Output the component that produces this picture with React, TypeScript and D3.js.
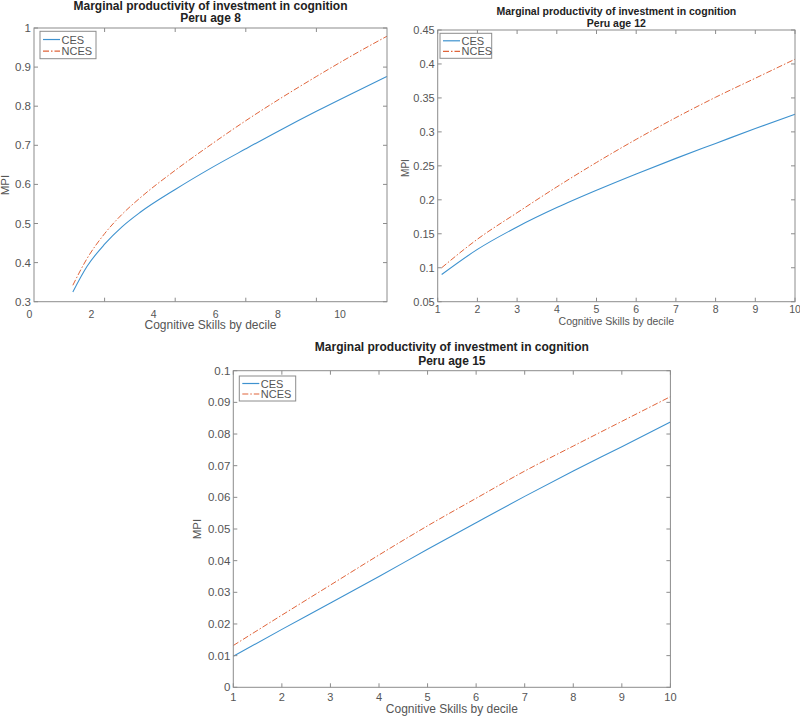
import React from "react";
import * as d3 from "d3";

// ---------- data ----------
const decilesAge8 = [1.1, 1.5, 2, 2.5, 3, 4, 5, 6, 7, 8, 9, 10];
const cesAge8 = [0.325, 0.39, 0.447, 0.492, 0.528, 0.587, 0.641, 0.691, 0.74, 0.787, 0.832, 0.876];
const ncesAge8 = [0.342, 0.41, 0.474, 0.524, 0.565, 0.636, 0.701, 0.763, 0.821, 0.876, 0.929, 0.979];

const decilesAge12 = [1.1, 2, 3, 4, 5, 6, 7, 8, 9, 10];
const cesAge12 = [0.09, 0.127, 0.16, 0.1885, 0.214, 0.238, 0.261, 0.283, 0.305, 0.326];
const ncesAge12 = [0.1, 0.142, 0.181, 0.219, 0.255, 0.289, 0.321, 0.351, 0.379, 0.407];

const decilesAge15 = [1, 2, 3, 4, 5, 6, 7, 8, 9, 10];
const cesAge15 = [0.0098, 0.0183, 0.0266, 0.035, 0.0436, 0.052, 0.0603, 0.0683, 0.076, 0.0838];
const ncesAge15 = [0.0132, 0.0228, 0.0323, 0.0418, 0.051, 0.0597, 0.0683, 0.0762, 0.084, 0.0918];

const yTicksAge8 = [0.3, 0.4, 0.5, 0.6, 0.7, 0.8, 0.9, 1];
const yTicksAge12 = [0.05, 0.1, 0.15, 0.2, 0.25, 0.3, 0.35, 0.4, 0.45];
const yTicksAge15 = [0, 0.01, 0.02, 0.03, 0.04, 0.05, 0.06, 0.07, 0.08, 0.09, 0.1];

// age 8 panel: tick marks and tick labels are offset from each other in the original
const xTickMarksAge8 = [2, 4, 6, 8];
const xTickLabelsAge8 = [0, 2, 4, 6, 8, 10];
const xTicksDecile = [1, 2, 3, 4, 5, 6, 7, 8, 9, 10];

const seriesNames = ["CES", "NCES"];
const titleLine1 = "Marginal productivity of investment in cognition";
const panelTitles = ["Peru age 8", "Peru age 12", "Peru age 15"];
const xAxisTitle = "Cognitive Skills by decile";
const yAxisTitle = "MPI";

// ---------- style ----------
const FONT = "'Liberation Sans', Arial, Helvetica, sans-serif";
const AXIS = "#8c8c8c";
const TXT = "#555";
const BLUE = "#3e92cf";
const ORANGE = "#e0643a";

interface PanelProps {
  rect: { l: number; r: number; t: number; b: number };
  xDomain: [number, number];
  yDomain: [number, number];
  xs: number[];
  ces: number[];
  nces: number[];
  yTicks: number[];
  xTickMarks: number[];
  xTickLabels: number[];
  labelScale?: d3.ScaleLinear<number, number>;
  title: string;
  titleSize: number;
  titleY: [number, number];
  yTickSize: number;
  xTickSize: number;
  axisSize: number;
  xLabelY: number;
  xTitleY: number;
  yTitleX: number;
  yTitleY: number;
  legend: { x: number; y: number; w: number; h: number };
  fmtY: (v: number) => string;
}

function Panel(p: PanelProps) {
  const { rect } = p;
  const x = d3.scaleLinear().domain(p.xDomain).range([rect.l, rect.r]);
  const y = d3.scaleLinear().domain(p.yDomain).range([rect.b, rect.t]);
  const lx = p.labelScale ?? x;
  const line = d3
    .line<[number, number]>()
    .x((d) => x(d[0]))
    .y((d) => y(d[1]))
    .curve(d3.curveMonotoneX);
  const cesPts = p.xs.map((v, i) => [v, p.ces[i]] as [number, number]);
  const ncesPts = p.xs.map((v, i) => [v, p.nces[i]] as [number, number]);
  const cx = (rect.l + rect.r) / 2;
  const tl = 4;
  const lg = p.legend;
  return (
    <g fontFamily={FONT}>
      <text x={cx} y={p.titleY[0]} textAnchor="middle" dominantBaseline="central" fontWeight="bold" fontSize={p.titleSize} fill="#222">
        {titleLine1}
      </text>
      <text x={cx} y={p.titleY[1]} textAnchor="middle" dominantBaseline="central" fontWeight="bold" fontSize={p.titleSize} fill="#222">
        {p.title}
      </text>
      {/* lines */}
      <path d={line(cesPts) || ""} fill="none" stroke={BLUE} strokeWidth={1.1} />
      <path d={line(ncesPts) || ""} fill="none" stroke={ORANGE} strokeWidth={1} strokeDasharray="6,2,1.5,2" />
      {/* box */}
      <rect x={rect.l} y={rect.t} width={rect.r - rect.l} height={rect.b - rect.t} fill="none" stroke={AXIS} strokeWidth={1} />
      {/* y ticks */}
      {p.yTicks.map((v, i) => (
        <g key={"y" + i}>
          <line x1={rect.l} x2={rect.l + tl} y1={y(v)} y2={y(v)} stroke={AXIS} />
          <line x1={rect.r} x2={rect.r - tl} y1={y(v)} y2={y(v)} stroke={AXIS} />
          <text x={rect.l - 3} y={y(v)} textAnchor="end" dominantBaseline="central" fontSize={p.yTickSize} fill={TXT}>
            {p.fmtY(v)}
          </text>
        </g>
      ))}
      {/* x tick marks */}
      {p.xTickMarks.map((v, i) => (
        <g key={"xm" + i}>
          <line x1={x(v)} x2={x(v)} y1={rect.b} y2={rect.b - tl} stroke={AXIS} />
          <line x1={x(v)} x2={x(v)} y1={rect.t} y2={rect.t + tl} stroke={AXIS} />
        </g>
      ))}
      {p.xTickLabels.map((v, i) => (
        <text key={"xl" + i} x={lx(v)} y={p.xLabelY} textAnchor="middle" dominantBaseline="central" fontSize={p.xTickSize} fill={TXT}>
          {String(v)}
        </text>
      ))}
      <text x={cx} y={p.xTitleY} textAnchor="middle" dominantBaseline="central" fontSize={p.axisSize} fill={TXT}>
        {xAxisTitle}
      </text>
      <text
        x={p.yTitleX}
        y={p.yTitleY}
        textAnchor="middle"
        dominantBaseline="central"
        fontSize={p.axisSize - 0.5}
        fill={TXT}
        transform={`rotate(-90 ${p.yTitleX} ${p.yTitleY})`}
      >
        {yAxisTitle}
      </text>
      {/* legend */}
      <rect x={lg.x} y={lg.y} width={lg.w} height={lg.h} fill="white" stroke={AXIS} strokeWidth={1} />
      {seriesNames.map((name, i) => {
        const yy = lg.y + lg.h * (i === 0 ? 0.3 : 0.72);
        return (
          <g key={name}>
            <line
              x1={lg.x + 3}
              x2={lg.x + 20}
              y1={yy}
              y2={yy}
              stroke={i === 0 ? BLUE : ORANGE}
              strokeWidth={1.2}
              strokeDasharray={i === 0 ? undefined : "6,2,1.5,2"}
            />
            <text x={lg.x + 21.5} y={yy} dominantBaseline="central" fontSize={11} fill={TXT}>
              {name}
            </text>
          </g>
        );
      })}
    </g>
  );
}

export default function App() {
  const fmt = (v: number) => String(+v.toFixed(3));
  const labelScale8 = d3.scaleLinear().domain([0, 10]).range([29.3, 340]);
  return (
    <svg width={800} height={717} style={{ position: "absolute", left: 0, top: 0, background: "white" }}>
      <rect width={800} height={717} fill="white" />
      <Panel
        rect={{ l: 34, r: 387, t: 28, b: 301.7 }}
        xDomain={[0, 10]}
        yDomain={[0.3, 1]}
        xs={decilesAge8}
        ces={cesAge8}
        nces={ncesAge8}
        yTicks={yTicksAge8}
        xTickMarks={xTickMarksAge8}
        xTickLabels={xTickLabelsAge8}
        labelScale={labelScale8}
        title={panelTitles[0]}
        titleSize={12}
        titleY={[5.7, 18.3]}
        yTickSize={11.5}
        xTickSize={10.5}
        axisSize={12}
        xLabelY={313.5}
        xTitleY={325}
        yTitleX={5}
        yTitleY={185}
        legend={{ x: 40, y: 31.3, w: 56, h: 27.4 }}
        fmtY={fmt}
      />
      <Panel
        rect={{ l: 437.7, r: 795, t: 30, b: 301.7 }}
        xDomain={[1, 10]}
        yDomain={[0.05, 0.45]}
        xs={decilesAge12}
        ces={cesAge12}
        nces={ncesAge12}
        yTicks={yTicksAge12}
        xTickMarks={xTicksDecile}
        xTickLabels={xTicksDecile}
        title={panelTitles[1]}
        titleSize={10.5}
        titleY={[11, 22.7]}
        yTickSize={11}
        xTickSize={10.5}
        axisSize={10.5}
        xLabelY={309.3}
        xTitleY={321}
        yTitleX={405}
        yTitleY={168}
        legend={{ x: 440, y: 33.3, w: 51.7, h: 25 }}
        fmtY={fmt}
      />
      <Panel
        rect={{ l: 233.3, r: 670.4, t: 370.7, b: 687.3 }}
        xDomain={[1, 10]}
        yDomain={[0, 0.1]}
        xs={decilesAge15}
        ces={cesAge15}
        nces={ncesAge15}
        yTicks={yTicksAge15}
        xTickMarks={xTicksDecile}
        xTickLabels={xTicksDecile}
        title={panelTitles[2]}
        titleSize={12}
        titleY={[347.3, 360.7]}
        yTickSize={11.5}
        xTickSize={11}
        axisSize={12}
        xLabelY={696.7}
        xTitleY={709}
        yTitleX={197.3}
        yTitleY={529}
        legend={{ x: 239.3, y: 376, w: 56.4, h: 25 }}
        fmtY={fmt}
      />
    </svg>
  );
}
